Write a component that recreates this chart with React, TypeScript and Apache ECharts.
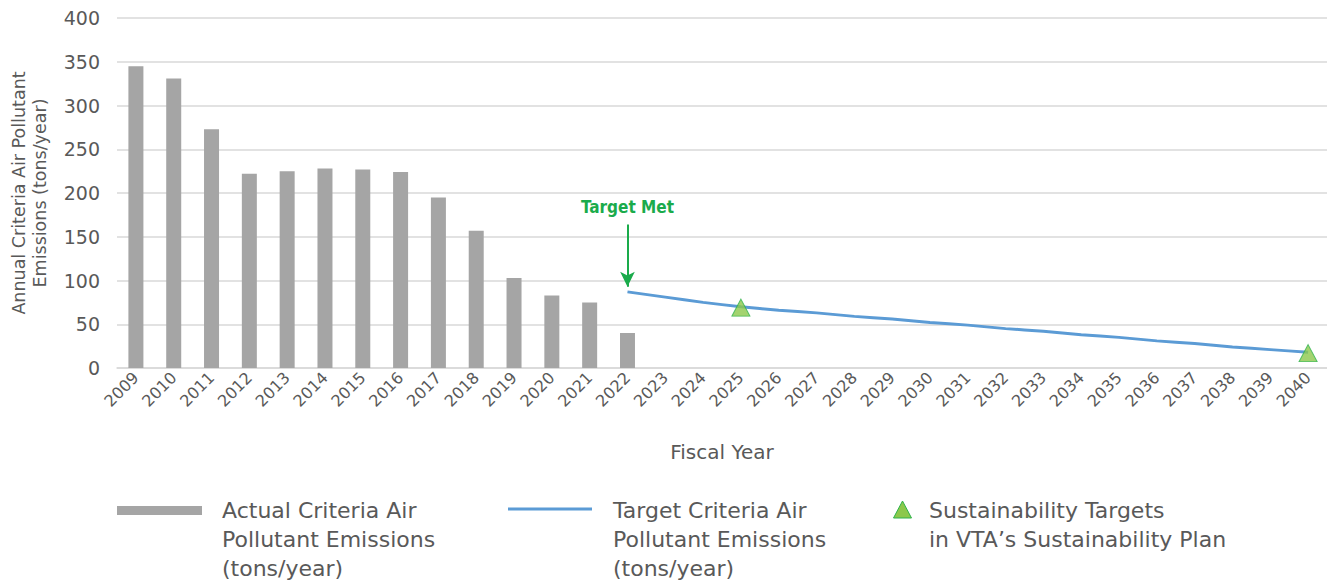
import React, { useEffect, useRef } from "react";
import * as echarts from "echarts";

const years = [
  "2009","2010","2011","2012","2013","2014","2015","2016","2017","2018","2019","2020","2021","2022",
  "2023","2024","2025","2026","2027","2028","2029","2030","2031","2032","2033","2034","2035","2036",
  "2037","2038","2039","2040",
];
const actualEmissions: (number | null)[] = [
  345, 331, 273, 222, 225, 228, 227, 224, 195, 157, 103, 83, 75, 40,
  null, null, null, null, null, null, null, null, null, null, null, null, null, null, null, null, null, null,
];
const targetEmissions: (number | null)[] = [
  null, null, null, null, null, null, null, null, null, null, null, null, null,
  87, 81, 75, 70, 66, 63, 59, 56, 52, 49, 45, 42, 38, 35, 31, 28, 24, 21, 18,
];
const sustainabilityTargets: [string, number][] = [
  ["2025", 69],
  ["2040", 17],
];
const yTicks = { min: 0, max: 400, interval: 50 };
const annotation = { year: "2022", text: "Target Met", textValue: 184, arrowFrom: 164, arrowTo: 93 };

const TEXT = "#595959";
const FONT = "'DejaVu Sans', sans-serif";

export default function App() {
  const ref = useRef<HTMLDivElement>(null);
  useEffect(() => {
    if (!ref.current) return;
    const chart = echarts.init(ref.current, undefined, { renderer: "svg" });
    chart.setOption({
      animation: false,
      backgroundColor: "#ffffff",
      textStyle: { fontFamily: FONT },
      grid: { left: 114, right: 0, top: 18, bottom: 214, containLabel: false },
      xAxis: {
        type: "category",
        data: years,
        name: "Fiscal Year",
        nameLocation: "middle",
        nameGap: 74,
        nameTextStyle: { fontSize: 20, color: TEXT, fontFamily: FONT },
        axisLine: { show: true, lineStyle: { color: "#d9d9d9", width: 1.5 } },
        axisTick: { show: false },
        axisLabel: { interval: 0, rotate: 45, fontSize: 16, color: TEXT, margin: 7, fontFamily: FONT },
      },
      yAxis: {
        type: "value",
        min: yTicks.min,
        max: yTicks.max,
        interval: yTicks.interval,
        name: "Annual Criteria Air Pollutant\nEmissions (tons/year)",
        nameLocation: "middle",
        nameGap: 67,
        nameTextStyle: { fontSize: 17.5, lineHeight: 21, color: TEXT, fontFamily: FONT },
        axisLine: { show: false },
        axisTick: { show: false },
        axisLabel: { fontSize: 19, color: TEXT, margin: 17, fontFamily: FONT },
        splitLine: { lineStyle: { color: "#d9d9d9", width: 1.5 } },
      },
      series: [
        {
          type: "bar",
          name: "Actual",
          data: actualEmissions,
          barWidth: 15,
          itemStyle: { color: "#a5a5a5" },
        },
        {
          type: "line",
          name: "Target",
          data: targetEmissions,
          symbol: "none",
          smooth: 0.2,
          lineStyle: { color: "#5b9bd5", width: 3 },
          z: 3,
          markLine: {
            silent: true,
            symbol: ["none", "arrow"],
            symbolSize: [11, 15],
            label: { show: false },
            lineStyle: { color: "#1aab4b", width: 2, type: "solid" },
            data: [[
              { coord: [annotation.year, annotation.arrowFrom] },
              { coord: [annotation.year, annotation.arrowTo] },
            ]],
          },
          markPoint: {
            silent: true,
            symbol: "circle",
            symbolSize: 1,
            itemStyle: { color: "rgba(0,0,0,0)" },
            label: {
              show: true,
              position: "inside",
              formatter: annotation.text,
              color: "#1aab4b",
              fontWeight: "bold",
              fontSize: 17,
              fontFamily: "'DejaVu Sans Condensed', sans-serif",
            },
            data: [{ coord: [annotation.year, annotation.textValue] }],
          },
        },
        {
          type: "scatter",
          name: "Sustainability",
          data: sustainabilityTargets,
          symbol: "triangle",
          symbolSize: [18, 17],
          itemStyle: { color: "#8cc84b", borderColor: "#2eb34a", borderWidth: 1 },
          z: 4,
        },
      ],
      graphic: [
        { type: "rect", shape: { x: 117, y: 506, width: 85, height: 9 }, style: { fill: "#a5a5a5" } },
        {
          type: "text", x: 222, y: 496,
          style: { text: "Actual Criteria Air\nPollutant Emissions\n(tons/year)", fill: TEXT, font: `22px ${FONT}`, lineHeight: 29 },
        },
        { type: "line", shape: { x1: 508, y1: 509, x2: 592, y2: 509 }, style: { stroke: "#5b9bd5", lineWidth: 3 } },
        {
          type: "text", x: 613, y: 496,
          style: { text: "Target Criteria Air\nPollutant Emissions\n(tons/year)", fill: TEXT, font: `22px ${FONT}`, lineHeight: 29 },
        },
        {
          type: "polygon",
          shape: { points: [[902.5, 501], [893.5, 518], [911.5, 518]] },
          style: { fill: "#8cc84b", stroke: "#2eb34a", lineWidth: 1 },
        },
        {
          type: "text", x: 929, y: 496,
          style: { text: "Sustainability Targets\nin VTA\u2019s Sustainability Plan", fill: TEXT, font: `22px ${FONT}`, lineHeight: 29 },
        },
      ],
    });
    return () => chart.dispose();
  }, []);
  return (
    <div
      ref={ref}
      style={{ position: "fixed", left: 0, top: 0, width: 1327, height: 582, background: "#fff" }}
    />
  );
}
